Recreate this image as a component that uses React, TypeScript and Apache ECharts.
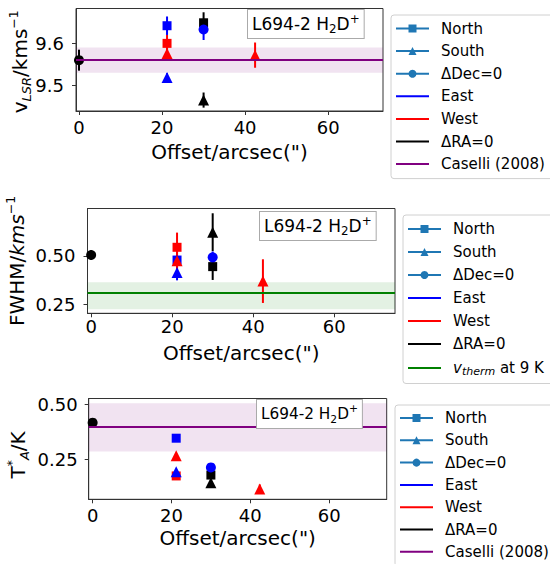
import React, { useEffect, useRef } from "react";
import * as echarts from "echarts";

// ---- data ----
const offsets = [0, 21.2, 21.2, 21.2, 21.2, 30, 30, 30, 42.4];
const raDirection = ["ΔRA=0", "East", "West", "East", "West", "ΔRA=0", "ΔRA=0", "East", "West"];
const decDirection = ["ΔDec=0", "North", "North", "South", "South", "North", "South", "ΔDec=0", "South"];

const vlsr = [9.56, 9.642, 9.6, 9.519, 9.576, 9.649, 9.465, 9.633, 9.572];
const vlsrErr = [0.025, 0.022, 0.02, 0.01, 0.015, 0.025, 0.018, 0.025, 0.03];

const fwhm = [0.505, 0.479, 0.545, 0.414, 0.476, 0.445, 0.623, 0.493, 0.37];
const fwhmErr = [0.025, 0.03, 0.076, 0.04, 0.05, 0.069, 0.098, 0.03, 0.113];

const tA = [0.417, 0.346, 0.174, 0.193, 0.266, 0.178, 0.143, 0.213, 0.115];
const tAErr = [0.012, 0.012, 0.008, 0.01, 0.01, 0.01, 0.01, 0.012, 0.02];

const caselliVlsr = 9.56;
const caselliVlsrBand = [9.53, 9.59];
const vtherm = 0.31;
const vthermBand = [0.224, 0.364];
const caselliTA = 0.4;
const caselliTABand = [0.285, 0.505];

const xTicks = [0, 20, 40, 60];
const vlsrTicks = [9.5, 9.6];
const fwhmTicks = [0.25, 0.5];
const tATicks = [0.25, 0.5];

const legendNames1 = ["North", "South", "ΔDec=0", "East", "West", "ΔRA=0", "Caselli (2008)"];
const legendNames2 = ["North", "South", "ΔDec=0", "East", "West", "ΔRA=0", "v_therm at 9 K"];
const legendNames3 = ["North", "South", "ΔDec=0", "East", "West", "ΔRA=0", "Caselli (2008)"];

const annotationText = "{a|L694-2 H}{s|2}{a|D}{p|+}";

// ---- styles ----
const FONT = "DejaVu Sans";
const colorOf: Record<string, string> = { East: "#0000ff", West: "#ff0000", "ΔRA=0": "#000000" };
const shapeOf: Record<string, string> = { North: "rect", South: "triangle", "ΔDec=0": "circle" };
const sizeOf: Record<string, number> = { rect: 9, triangle: 11, circle: 10 };
const C0 = "#1f77b4";
const PURPLE = "#800080";
const GREEN = "#008000";
const AX = "#333";

const nameRich = {
  n: { fontSize: 20, lineHeight: 26, fontFamily: FONT, color: "#000" },
  ni: { fontSize: 20, lineHeight: 26, fontFamily: FONT, fontStyle: "italic", color: "#000" },
  sub: { fontSize: 13, lineHeight: 12, fontFamily: FONT, fontStyle: "italic", verticalAlign: "bottom", color: "#000" },
  sup: { fontSize: 12.5, lineHeight: 12, fontFamily: FONT, verticalAlign: "top", color: "#000" },
};

const panels = [
  {
    grid: { left: 76, top: 8.5, width: 307, height: 102.5 },
    xr: [-0.72, 73.2], yr: [9.439, 9.683],
    vals: vlsr, errs: vlsrErr, yTicks: vlsrTicks, digits: 1,
    ref: caselliVlsr, band: caselliVlsrBand, refName: "Caselli (2008)", refColor: PURPLE,
    yName: "{n|v}{sub|LSR}{n|/kms}{sup|−1}", yNameGap: 43, yNamePad: [0, 4, 0, 0],
    xLabelMargin: 7, yLabelMargin: 12, xNameGap: 31,
    annot: { x: 247, y: 9, fs: 17 },
  },
  {
    grid: { left: 87.5, top: 208.5, width: 307.5, height: 104.8 },
    xr: [-0.9, 75], yr: [0.2035, 0.7457],
    vals: fwhm, errs: fwhmErr, yTicks: fwhmTicks, digits: 2,
    ref: vtherm, band: vthermBand, refName: "v_therm at 9 K", refColor: GREEN,
    yName: "{n|FWHM/}{ni|kms}{sup|−1}", yNameGap: 57.5, yNamePad: [0, 0, 0, 0],
    xLabelMargin: 4, yLabelMargin: 12, xNameGap: 30,
    annot: { x: 259, y: 211, fs: 17 },
  },
  {
    grid: { left: 88.7, top: 398.5, width: 298, height: 100.8 },
    xr: [-1, 74.6], yr: [0.0675, 0.527],
    vals: tA, errs: tAErr, yTicks: tATicks, digits: 2,
    ref: caselliTA, band: caselliTABand, refName: "Caselli (2008)", refColor: PURPLE,
    yName: "{n|T}{sup|*}{sub|A}{n|/K}", yNameGap: 58, yNamePad: [0, 12, 0, 0],
    xLabelMargin: 7, yLabelMargin: 11, xNameGap: 29,
    annot: { x: 256, y: 399, fs: 15.3 },
  },
];

const legendLayout = [
  { left: 391, top: 15, gap: 7.6, names: legendNames1, pad: [6, 14, 7, 4] },
  { left: 403, top: 215, gap: 8, names: legendNames2, pad: [6.5, 14, 7, 4] },
  { left: 395, top: 405, gap: 7.3, names: legendNames3, pad: [5.5, 14, 7, 4] },
];

function buildOption() {
  const grids: any[] = [];
  const xAxes: any[] = [];
  const yAxes: any[] = [];
  const series: any[] = [];
  const graphics: any[] = [];

  // dummy legend series
  ["North", "South", "ΔDec=0"].forEach((n) => {
    series.push({
      type: "line", name: n, data: [], xAxisIndex: 0, yAxisIndex: 0,
      symbol: shapeOf[n], color: C0,
      itemStyle: { color: C0 }, lineStyle: { color: C0, width: 2.5 },
    });
  });
  ["East", "West", "ΔRA=0"].forEach((n) => {
    series.push({
      type: "line", name: n, data: [], xAxisIndex: 0, yAxisIndex: 0,
      symbol: "circle",
      itemStyle: { color: "transparent" }, lineStyle: { color: colorOf[n], width: 2.5 },
    });
  });

  panels.forEach((p, i) => {
    grids.push({
      ...p.grid, show: true, borderColor: AX, borderWidth: 1, backgroundColor: "transparent",
      containLabel: false, outerBoundsMode: "none",
    });
    xAxes.push({
      type: "value", gridIndex: i, min: p.xr[0], max: p.xr[1],
      name: 'Offset/arcsec(")', nameLocation: "middle", nameGap: p.xNameGap, nameMoveOverlap: false,
      nameTextStyle: { fontSize: 20, fontFamily: FONT, color: "#000" },
      axisLine: { show: true, onZero: false, lineStyle: { color: AX, width: 1 } },
      axisTick: { show: true, inside: false, length: 4, customValues: xTicks, lineStyle: { color: AX } },
      axisLabel: { show: true, customValues: xTicks, margin: p.xLabelMargin, fontSize: 18, fontFamily: FONT, color: "#000", hideOverlap: false },
      splitLine: { show: false },
    });
    yAxes.push({
      type: "value", gridIndex: i, min: p.yr[0], max: p.yr[1],
      name: p.yName, nameLocation: "middle", nameGap: p.yNameGap, nameMoveOverlap: false,
      nameTextStyle: { fontSize: 20, fontFamily: FONT, color: "#000", rich: nameRich, padding: p.yNamePad },
      axisLine: { show: true, onZero: false, lineStyle: { color: AX, width: 1 } },
      axisTick: { show: true, inside: false, length: 4, customValues: p.yTicks, lineStyle: { color: AX } },
      axisLabel: {
        show: true, customValues: p.yTicks, margin: p.yLabelMargin, fontSize: 18, fontFamily: FONT, color: "#000",
        formatter: (v: number) => v.toFixed(p.digits),
      },
      splitLine: { show: false },
    });

    // reference line + band
    series.push({
      type: "line", name: p.refName, data: [], xAxisIndex: i, yAxisIndex: i,
      symbol: "circle", itemStyle: { color: "transparent" },
      lineStyle: { color: p.refColor, width: 2 }, z: 1,
      markLine: {
        silent: true, symbol: "none", label: { show: false },
        lineStyle: { color: p.refColor, width: 2, type: "solid" },
        data: [{ yAxis: p.ref }],
      },
      markArea: {
        silent: true,
        itemStyle: { color: p.refColor === PURPLE ? "rgba(128,0,128,0.11)" : "rgba(0,128,0,0.11)" },
        data: [[{ yAxis: p.band[0] }, { yAxis: p.band[1] }]],
      },
    });

    // error bars
    series.push({
      type: "custom", name: "err" + i, xAxisIndex: i, yAxisIndex: i, z: 3,
      data: offsets.map((x, k) => [x, p.vals[k] - p.errs[k], p.vals[k] + p.errs[k], k]),
      encode: { x: 0, y: [1, 2] },
      renderItem: (params: any, api: any) => {
        const x = api.value(0);
        const k = api.value(3);
        const a = api.coord([x, api.value(1)]);
        const b = api.coord([x, api.value(2)]);
        return {
          type: "line",
          shape: { x1: a[0], y1: a[1], x2: b[0], y2: b[1] },
          style: { stroke: colorOf[raDirection[k]], lineWidth: 2 },
        };
      },
    });

    // markers
    series.push({
      type: "scatter", name: "pts" + i, xAxisIndex: i, yAxisIndex: i, z: 4,
      data: offsets.map((x, k) => {
        const sym = shapeOf[decDirection[k]];
        return {
          value: [x, p.vals[k]],
          symbol: sym,
          symbolSize: sizeOf[sym],
          itemStyle: { color: colorOf[raDirection[k]], opacity: 1 },
        };
      }),
    });

    const fs = p.annot.fs;
    graphics.push({
      type: "text", left: p.annot.x, top: p.annot.y, z: 100,
      style: {
        text: annotationText,
        fontSize: fs, fontFamily: FONT, fill: "#000",
        backgroundColor: "#fff", borderColor: "#aaa", borderWidth: 1,
        padding: [3, 4, 3, 4],
        rich: {
          a: { fontSize: fs, fontFamily: FONT, lineHeight: 22, fill: "#000" },
          s: { fontSize: fs * 0.7, fontFamily: FONT, verticalAlign: "bottom", lineHeight: 9, fill: "#000" },
          p: { fontSize: fs * 0.7, fontFamily: FONT, verticalAlign: "top", lineHeight: 9, fill: "#000" },
        },
      },
    });
  });

  const legends = legendLayout.map((L) => ({
    orient: "vertical", left: L.left, top: L.top, align: "left", height: 200,
    itemWidth: 33, itemHeight: 10, itemGap: L.gap,
    padding: L.pad, backgroundColor: "#fff",
    borderColor: "#d0d0d0", borderWidth: 1, borderRadius: 3,
    selectedMode: false,
    data: L.names,
    formatter: (name: string) => (name === "v_therm at 9 K" ? "{vi|v}{vs|therm}{t| at 9 K}" : name),
    textStyle: {
      fontSize: 15, lineHeight: 15, fontFamily: FONT, color: "#000", padding: [0, 0, 0, 7],
      rich: {
        vi: { fontSize: 15, lineHeight: 17, fontFamily: FONT, fontStyle: "italic", color: "#000" },
        vs: { fontSize: 11, lineHeight: 9, fontFamily: FONT, fontStyle: "italic", verticalAlign: "bottom", color: "#000" },
        t: { fontSize: 15, lineHeight: 17, fontFamily: FONT, color: "#000" },
      },
    },
  }));

  return {
    animation: false,
    backgroundColor: "#fff",
    textStyle: { fontFamily: FONT },
    grid: grids,
    xAxis: xAxes,
    yAxis: yAxes,
    legend: legends,
    series,
    graphic: graphics,
  };
}

export default function App() {
  const ref = useRef<HTMLDivElement>(null);
  useEffect(() => {
    if (!ref.current) return;
    const chart = echarts.init(ref.current, undefined, { renderer: "svg" });
    chart.setOption(buildOption() as any);
    return () => chart.dispose();
  }, []);
  return (
    <div
      ref={ref}
      style={{ position: "fixed", left: 0, top: 0, width: 550, height: 564, background: "#fff" }}
    />
  );
}
